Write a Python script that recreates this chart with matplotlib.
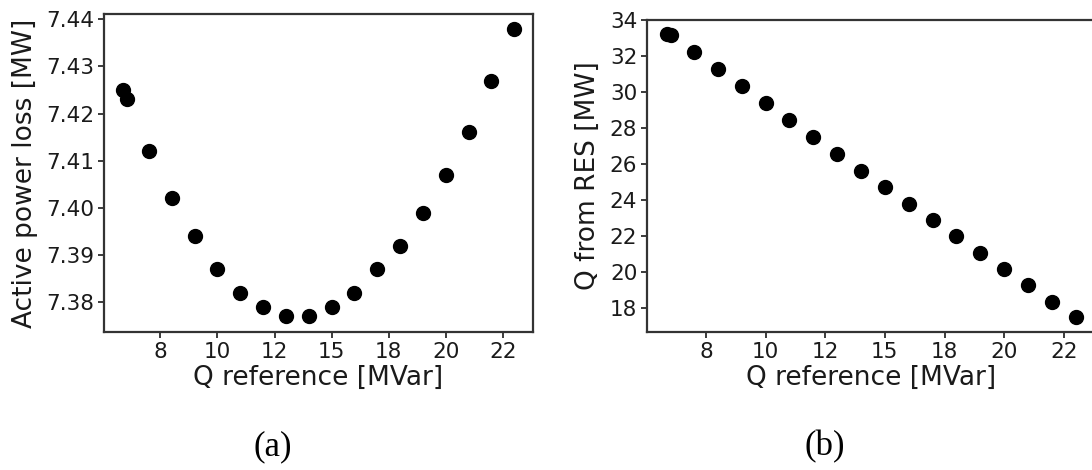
import numpy as np
import matplotlib
matplotlib.use("Agg")
import matplotlib.pyplot as plt
from matplotlib.ticker import FormatStrFormatter, FixedLocator

# ---- data ----
q_ref = [5.88, 6.04, 7, 8, 9, 10, 11, 12, 13, 14, 15, 16, 17, 18, 19, 20, 21, 22, 23]
power_loss = [7.425, 7.423, 7.412, 7.402, 7.394, 7.387, 7.382, 7.379, 7.377, 7.377,
              7.379, 7.382, 7.387, 7.392, 7.399, 7.407, 7.416, 7.427, 7.438]
q_res = [33.25, 33.20, 32.21, 31.28, 30.35, 29.38, 28.45, 27.53, 26.56, 25.63,
         24.70, 23.80, 22.87, 21.98, 21.07, 20.18, 19.25, 18.35, 17.52]
x_ticks = [7.5, 10, 12.5, 15, 17.5, 20, 22.5]
y_ticks_a = [7.38, 7.39, 7.40, 7.41, 7.42, 7.43, 7.44]
y_ticks_b = [18, 20, 22, 24, 26, 28, 30, 32, 34]

W, H = 1092, 470
fig = plt.figure(figsize=(W / 100, H / 100), dpi=100)

def box(l, t, r, b):
    return [l / W, 1 - b / H, (r - l) / W, (b - t) / H]

ax_a = fig.add_axes(box(104, 14, 533, 332))
ax_b = fig.add_axes(box(647, 19.5, 1096, 332))

tick_fs = 15.5
label_fs = 19

for ax, y, yt, yfmt, ylabel in [
    (ax_a, power_loss, y_ticks_a, '%.2f', 'Active power loss [MW]'),
    (ax_b, q_res, y_ticks_b, '%d', 'Q from RES [MW]'),
]:
    ax.scatter(q_ref, y, s=100, color='black', zorder=3)
    ax.xaxis.set_major_locator(FixedLocator(x_ticks))
    ax.xaxis.set_major_formatter(FormatStrFormatter('%.0f'))
    ax.yaxis.set_major_locator(FixedLocator(yt))
    ax.yaxis.set_major_formatter(FormatStrFormatter(yfmt))
    ax.tick_params(labelsize=tick_fs, colors='#1a1a1a', width=1.2, length=4, pad=3)
    for sp in ax.spines.values():
        sp.set_linewidth(1.6)
        sp.set_color('#333333')
    ax.set_xlabel('Q reference [MVar]', fontsize=label_fs, color='#1a1a1a', labelpad=2)
    ax.set_ylabel(ylabel, fontsize=label_fs, color='#1a1a1a', labelpad=6)

ax_a.set_xlim(5.03, 23.82)
ax_a.set_ylim(7.3737, 7.4411)
ax_b.set_xlim(5.03, 23.85)
ax_b.set_ylim(16.66, 34.04)

fig.text(273 / W, 1 - 447 / H, '(a)', fontsize=25, family='Liberation Serif',
         ha='center', va='center')
fig.text(825 / W, 1 - 447 / H, '(b)', fontsize=25, family='Liberation Serif',
         ha='center', va='center')

fig.savefig('out.png', dpi=100)
